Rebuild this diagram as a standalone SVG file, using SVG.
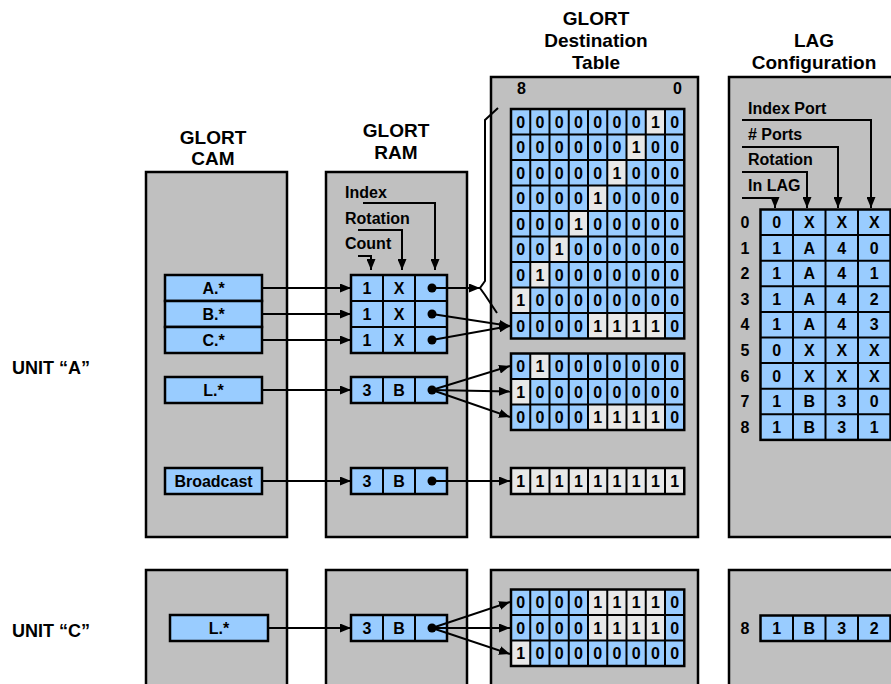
<svg xmlns="http://www.w3.org/2000/svg" width="891" height="684" viewBox="0 0 891 684">
<defs>
<style>
.box{fill:#C0C0C0;stroke:#000;stroke-width:2.5}
.cell{fill:#99CCFF;stroke:#000;stroke-width:2.5}
.g{fill:#E8E8E8}
.grid{fill:none;stroke:#000;stroke-width:2}
.frame{fill:none;stroke:#000;stroke-width:2.5}
.hdr{font-family:"Liberation Sans",Arial,sans-serif;font-weight:bold;font-size:19px;text-anchor:middle;fill:#000}
.t{font-family:"Liberation Sans",Arial,sans-serif;font-weight:bold;font-size:16px;text-anchor:middle;fill:#000}
.lbl{font-family:"Liberation Sans",Arial,sans-serif;font-weight:bold;font-size:16px;fill:#000}
.unit{font-family:"Liberation Sans",Arial,sans-serif;font-weight:bold;font-size:18px;fill:#000}
.w{fill:none;stroke:#000;stroke-width:2}
.a{fill:none;stroke:#000;stroke-width:2;marker-end:url(#ah)}
.dot{fill:#000}
</style>
<marker id="ah" markerUnits="userSpaceOnUse" markerWidth="11" markerHeight="9" refX="11" refY="4.5" orient="auto"><path d="M0,0 L11,4.5 L0,9 z" fill="#000"/></marker>
</defs>
<rect width="891" height="684" fill="#fff"/>

<text class="unit" x="12" y="373.5">UNIT “A”</text>
<text class="unit" x="12" y="636.5">UNIT “C”</text>

<g id="cam">
<text class="hdr" x="213" y="144">GLORT</text>
<text class="hdr" x="213" y="165">CAM</text>
<rect class="box" x="146" y="172" width="141" height="365"/>
<rect class="cell" x="165" y="275" width="97" height="26"/>
<rect class="cell" x="165" y="301" width="97" height="26"/>
<rect class="cell" x="165" y="327" width="97" height="26"/>
<rect class="cell" x="165" y="377" width="97" height="26"/>
<rect class="cell" x="165" y="468" width="97" height="26"/>
<text class="t" x="213.5" y="293.8">A.*</text>
<text class="t" x="213.5" y="319.8">B.*</text>
<text class="t" x="213.5" y="345.8">C.*</text>
<text class="t" x="213.5" y="395.8">L.*</text>
<text class="t" x="213.5" y="486.8">Broadcast</text>
</g>

<g id="ram">
<text class="hdr" x="396" y="137">GLORT</text>
<text class="hdr" x="396" y="159">RAM</text>
<rect class="box" x="326" y="172" width="141" height="365"/>
<text class="lbl" x="345" y="197.5">Index</text>
<text class="lbl" x="345" y="223.5">Rotation</text>
<text class="lbl" x="345" y="249">Count</text>
<path class="a" d="M363,203 H435 V270"/>
<path class="a" d="M358,230 H402 V270"/>
<path class="a" d="M358,256 H371 V270"/>
<rect class="cell" x="351" y="275" width="96" height="78"/>
<path class="grid" d="M383,275V353M415,275V353M351,301H447M351,327H447"/>
<text class="t" x="367 399" y="293.8">1X</text>
<text class="t" x="367 399" y="319.8">1X</text>
<text class="t" x="367 399" y="345.8">1X</text>
<rect class="cell" x="351" y="377" width="96" height="26"/>
<path class="grid" d="M383,377V403M415,377V403"/>
<text class="t" x="367 399" y="395.8">3B</text>
<rect class="cell" x="351" y="468" width="96" height="26"/>
<path class="grid" d="M383,468V494M415,468V494"/>
<text class="t" x="367 399" y="486.8">3B</text>
</g>

<g id="dest">
<text class="hdr" x="596" y="25">GLORT</text>
<text class="hdr" x="596" y="47">Destination</text>
<text class="hdr" x="596" y="69">Table</text>
<rect class="box" x="491" y="77" width="207" height="460"/>
<text class="lbl" x="517" y="94" font-size="14">8</text>
<text class="lbl" x="673" y="94" font-size="14">0</text>
<rect x="511" y="109" width="173.25" height="229.5" fill="#99CCFF"/>
<rect class="g" x="645.75" y="109" width="19.25" height="25.5"/>
<rect class="g" x="626.5" y="134.5" width="19.25" height="25.5"/>
<rect class="g" x="607.25" y="160" width="19.25" height="25.5"/>
<rect class="g" x="588" y="185.5" width="19.25" height="25.5"/>
<rect class="g" x="568.75" y="211" width="19.25" height="25.5"/>
<rect class="g" x="549.5" y="236.5" width="19.25" height="25.5"/>
<rect class="g" x="530.25" y="262" width="19.25" height="25.5"/>
<rect class="g" x="511" y="287.5" width="19.25" height="25.5"/>
<rect class="g" x="588" y="313" width="77" height="25.5"/>
<path class="grid" d="M530.25 109V338.5M549.5 109V338.5M568.75 109V338.5M588 109V338.5M607.25 109V338.5M626.5 109V338.5M645.75 109V338.5M665 109V338.5M511 134.5H684.25M511 160H684.25M511 185.5H684.25M511 211H684.25M511 236.5H684.25M511 262H684.25M511 287.5H684.25M511 313H684.25"/>
<rect class="frame" x="511" y="109" width="173.25" height="229.5"/>
<text class="t" x="520.6 539.9 559.1 578.4 597.6 616.9 636.1 655.4 674.6" y="127.5">000000010</text>
<text class="t" x="520.6 539.9 559.1 578.4 597.6 616.9 636.1 655.4 674.6" y="153">000000100</text>
<text class="t" x="520.6 539.9 559.1 578.4 597.6 616.9 636.1 655.4 674.6" y="178.5">000001000</text>
<text class="t" x="520.6 539.9 559.1 578.4 597.6 616.9 636.1 655.4 674.6" y="204">000010000</text>
<text class="t" x="520.6 539.9 559.1 578.4 597.6 616.9 636.1 655.4 674.6" y="229.5">000100000</text>
<text class="t" x="520.6 539.9 559.1 578.4 597.6 616.9 636.1 655.4 674.6" y="255">001000000</text>
<text class="t" x="520.6 539.9 559.1 578.4 597.6 616.9 636.1 655.4 674.6" y="280.5">010000000</text>
<text class="t" x="520.6 539.9 559.1 578.4 597.6 616.9 636.1 655.4 674.6" y="306">100000000</text>
<text class="t" x="520.6 539.9 559.1 578.4 597.6 616.9 636.1 655.4 674.6" y="331.5">000011110</text>

<rect x="511" y="353.5" width="173.25" height="76.5" fill="#99CCFF"/>
<rect class="g" x="530.25" y="353.5" width="19.25" height="25.5"/>
<rect class="g" x="511" y="379" width="19.25" height="25.5"/>
<rect class="g" x="588" y="404.5" width="77" height="25.5"/>
<path class="grid" d="M530.25 353.5V430M549.5 353.5V430M568.75 353.5V430M588 353.5V430M607.25 353.5V430M626.5 353.5V430M645.75 353.5V430M665 353.5V430M511 379H684.25M511 404.5H684.25"/>
<rect class="frame" x="511" y="353.5" width="173.25" height="76.5"/>
<text class="t" x="520.6 539.9 559.1 578.4 597.6 616.9 636.1 655.4 674.6" y="372">010000000</text>
<text class="t" x="520.6 539.9 559.1 578.4 597.6 616.9 636.1 655.4 674.6" y="397.5">100000000</text>
<text class="t" x="520.6 539.9 559.1 578.4 597.6 616.9 636.1 655.4 674.6" y="423">000011110</text>

<rect x="511" y="468" width="173.25" height="26" fill="#E8E8E8"/>
<path class="grid" d="M530.25 468V494M549.5 468V494M568.75 468V494M588 468V494M607.25 468V494M626.5 468V494M645.75 468V494M665 468V494"/>
<rect class="frame" x="511" y="468" width="173.25" height="26"/>
<text class="t" x="520.6 539.9 559.1 578.4 597.6 616.9 636.1 655.4 674.6" y="486.8">111111111</text>
</g>

<g id="lag">
<text class="hdr" x="814" y="47">LAG</text>
<text class="hdr" x="814" y="69">Configuration</text>
<rect class="box" x="729" y="77" width="180" height="460"/>
<text class="lbl" x="748" y="114">Index Port</text>
<text class="lbl" x="748" y="140">#&#160;Ports</text>
<text class="lbl" x="748" y="165">Rotation</text>
<text class="lbl" x="748" y="191">In LAG</text>
<path class="a" d="M742,120 H871 V208"/>
<path class="a" d="M742,147 H838 V208"/>
<path class="a" d="M742,172 H807 V208"/>
<path class="a" d="M742,198 H775 V208"/>
<rect class="cell" x="760.5" y="209.5" width="130" height="230.4"/>
<path class="grid" d="M793 209.5V439.9M825.5 209.5V439.9M858 209.5V439.9M760.5 235.1H890.5M760.5 260.7H890.5M760.5 286.3H890.5M760.5 311.9H890.5M760.5 337.5H890.5M760.5 363.1H890.5M760.5 388.7H890.5M760.5 414.3H890.5"/>
<text class="t" x="745" y="228">0</text>
<text class="t" x="745" y="253.6">1</text>
<text class="t" x="745" y="279.2">2</text>
<text class="t" x="745" y="304.8">3</text>
<text class="t" x="745" y="330.4">4</text>
<text class="t" x="745" y="356">5</text>
<text class="t" x="745" y="381.6">6</text>
<text class="t" x="745" y="407.2">7</text>
<text class="t" x="745" y="432.8">8</text>
<text class="t" x="776.75 809.25 841.75 874.25" y="228">0XXX</text>
<text class="t" x="776.75 809.25 841.75 874.25" y="253.6">1A40</text>
<text class="t" x="776.75 809.25 841.75 874.25" y="279.2">1A41</text>
<text class="t" x="776.75 809.25 841.75 874.25" y="304.8">1A42</text>
<text class="t" x="776.75 809.25 841.75 874.25" y="330.4">1A43</text>
<text class="t" x="776.75 809.25 841.75 874.25" y="356">0XXX</text>
<text class="t" x="776.75 809.25 841.75 874.25" y="381.6">0XXX</text>
<text class="t" x="776.75 809.25 841.75 874.25" y="407.2">1B30</text>
<text class="t" x="776.75 809.25 841.75 874.25" y="432.8">1B31</text>
</g>

<g id="cam-c">
<rect class="box" x="146" y="570" width="141" height="130"/>
<rect class="cell" x="170" y="615" width="98" height="26"/>
<text class="t" x="219" y="633.8">L.*</text>
</g>

<g id="ram-c">
<rect class="box" x="326" y="570" width="141" height="130"/>
<rect class="cell" x="351" y="615" width="96" height="26"/>
<path class="grid" d="M383,615V641M415,615V641"/>
<text class="t" x="367 399" y="633.8">3B</text>
</g>

<g id="dest-c">
<rect class="box" x="491" y="570" width="207" height="130"/>
<rect x="511" y="589.5" width="173.25" height="76.5" fill="#99CCFF"/>
<rect class="g" x="588" y="589.5" width="77" height="25.5"/>
<rect class="g" x="588" y="615" width="77" height="25.5"/>
<rect class="g" x="511" y="640.5" width="19.25" height="25.5"/>
<path class="grid" d="M530.25 589.5V666M549.5 589.5V666M568.75 589.5V666M588 589.5V666M607.25 589.5V666M626.5 589.5V666M645.75 589.5V666M665 589.5V666M511 615H684.25M511 640.5H684.25"/>
<rect class="frame" x="511" y="589.5" width="173.25" height="76.5"/>
<text class="t" x="520.6 539.9 559.1 578.4 597.6 616.9 636.1 655.4 674.6" y="608">000011110</text>
<text class="t" x="520.6 539.9 559.1 578.4 597.6 616.9 636.1 655.4 674.6" y="633.5">000011110</text>
<text class="t" x="520.6 539.9 559.1 578.4 597.6 616.9 636.1 655.4 674.6" y="659">100000000</text>
</g>

<g id="lag-c">
<rect class="box" x="729" y="570" width="180" height="130"/>
<rect class="cell" x="760.5" y="615.5" width="130" height="25.5"/>
<path class="grid" d="M793 615.5V641M825.5 615.5V641M858 615.5V641"/>
<text class="t" x="745" y="634">8</text>
<text class="t" x="776.75 809.25 841.75 874.25" y="634">1B32</text>
</g>

<g id="connectors">
<path class="a" d="M262,288 H351"/>
<path class="a" d="M262,314 H351"/>
<path class="a" d="M262,340 H351"/>
<path class="a" d="M262,390 H351"/>
<path class="a" d="M262,481 H351"/>
<path class="a" d="M268,628 H351"/>
<path class="a" d="M432,288 H480"/>
<path class="w" d="M498,108 L485,120 V281 L480,288 L485,295 L497,313"/>
<path class="a" d="M432,314 L510,326"/>
<path class="a" d="M432,340 L510,326"/>
<path class="a" d="M432,390 L510,366"/>
<path class="a" d="M432,390 L510,391.5"/>
<path class="a" d="M432,390 L510,417"/>
<path class="a" d="M432,481 H510"/>
<path class="a" d="M432,628 L510,602"/>
<path class="a" d="M432,628 L510,628"/>
<path class="a" d="M432,628 L510,654"/>
<circle class="dot" cx="432" cy="288" r="4.5"/>
<circle class="dot" cx="432" cy="314" r="4.5"/>
<circle class="dot" cx="432" cy="340" r="4.5"/>
<circle class="dot" cx="432" cy="390" r="4.5"/>
<circle class="dot" cx="432" cy="481" r="4.5"/>
<circle class="dot" cx="432" cy="628" r="4.5"/>
</g>
</svg>
